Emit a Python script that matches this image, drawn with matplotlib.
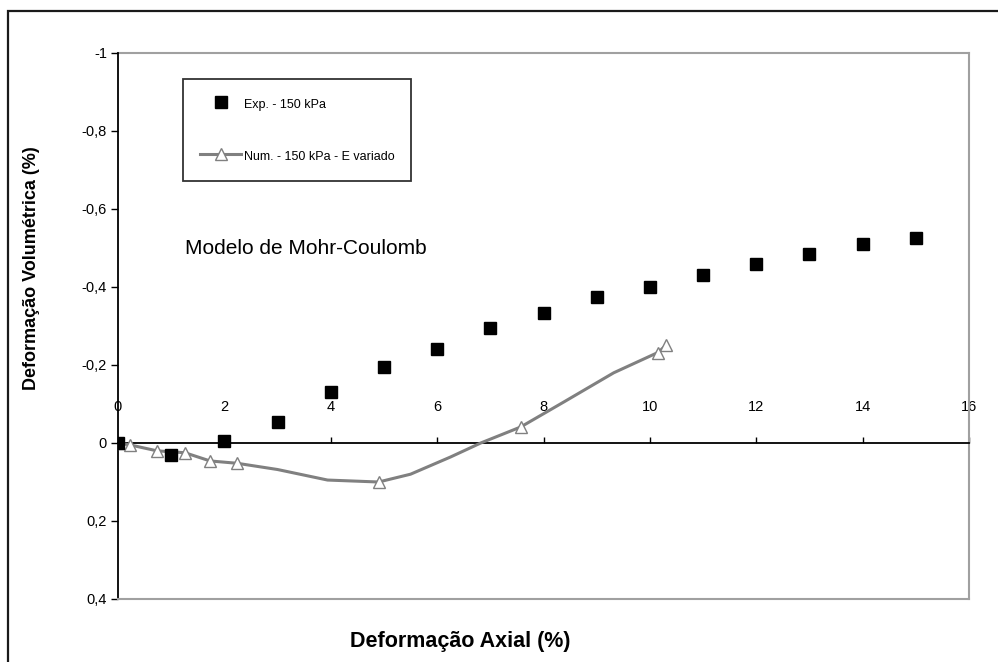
import matplotlib
matplotlib.use("Agg")
import matplotlib.pyplot as plt
from matplotlib.patches import Rectangle
from matplotlib.lines import Line2D

plt.rcParams['font.family'] = ['Liberation Sans', 'DejaVu Sans']

# Experimental data
exp_x = [0, 1, 2, 3, 4, 5, 6, 7, 8, 9, 10, 11, 12, 13, 14, 15]
exp_y = [0.0, 0.03, -0.005, -0.054, -0.13, -0.195, -0.24, -0.295, -0.333,
         -0.375, -0.40, -0.43, -0.46, -0.485, -0.51, -0.526]

# Numerical curve
num_x = [0, 0.23, 0.73, 1.26, 1.73, 2.24, 3.0, 3.94, 4.9, 5.5, 6.25, 6.82,
         7.57, 8.38, 9.32, 10.15, 10.3]
num_y = [0.0, 0.005, 0.02, 0.025, 0.046, 0.052, 0.068, 0.095, 0.10, 0.08,
         0.036, 0.0, -0.041, -0.105, -0.18, -0.232, -0.25]
num_marks = [0, 1, 2, 3, 4, 5, 8, 12, 15, 16]

x_ticks = [0, 2, 4, 6, 8, 10, 12, 14, 16]
y_ticks = [-1, -0.8, -0.6, -0.4, -0.2, 0, 0.2, 0.4]
y_ticklabels = ['-1', '-0,8', '-0,6', '-0,4', '-0,2', '0', '0,2', '0,4']

W, H = 998, 662
fig = plt.figure(figsize=(W / 100, H / 100), dpi=100)
fig.patch.set_facecolor('white')

# outer frame (clipped at right/bottom)
fig.add_artist(Rectangle((8 / W, -0.1), 1.2, 1 - 11 / H + 0.1,
                         transform=fig.transFigure, fill=False,
                         edgecolor='#1a1a1a', linewidth=1.6))

ax = fig.add_axes([118 / W, 1 - 599 / H, (969 - 118) / W, (599 - 53) / H])
ax.set_xlim(0, 16)
ax.set_ylim(0.4, -1)

gray = '#a0a0a0'
ax.spines['left'].set_color('black')
ax.spines['left'].set_linewidth(1.3)
ax.spines['right'].set_color(gray)
ax.spines['right'].set_linewidth(1.5)
ax.spines['bottom'].set_color(gray)
ax.spines['bottom'].set_linewidth(1.5)
# x-axis drawn at y = 0 using the top spine
ax.spines['top'].set_position(('data', 0))
ax.spines['top'].set_color('black')
ax.spines['top'].set_linewidth(1.3)
ax.plot([0, 1], [1, 1], transform=ax.transAxes, color=gray, lw=1.5,
        clip_on=False, zorder=1)

ax.xaxis.set_ticks_position('top')
ax.set_xticks(x_ticks)
ax.set_xticklabels([str(v) for v in x_ticks])
ax.tick_params(axis='x', direction='out', length=4, width=1, pad=17,
               labelsize=10.5, color='black')
ax.set_yticks(y_ticks)
ax.set_yticklabels(y_ticklabels)
ax.tick_params(axis='y', direction='out', length=5, width=1, pad=3,
               labelsize=10.5)

ax.plot(num_x, num_y, color='#808080', lw=2.2, marker='^', markersize=8,
        markerfacecolor='white', markeredgecolor='#808080', markeredgewidth=1.0,
        markevery=num_marks, label='Num. - 150 kPa - E variado', zorder=3)
ax.plot(exp_x, exp_y, linestyle='none', marker='s', markersize=8.5,
        color='black', label='Exp. - 150 kPa', zorder=4)

handles = [Line2D([], [], linestyle='none', marker='s', markersize=8.5, color='black'),
           Line2D([], [], color='#808080', lw=2.2, marker='^', markersize=8,
                  markerfacecolor='white', markeredgecolor='#808080')]
leg = ax.legend(handles, ['Exp. - 150 kPa', 'Num. - 150 kPa - E variado'],
                loc='upper left', bbox_to_anchor=(183 / W, 1 - 79 / H),
                bbox_transform=fig.transFigure, frameon=True, fancybox=False,
                edgecolor='black', fontsize=9, labelspacing=2.85,
                handlelength=3.3, handleheight=1.6, handletextpad=0.2,
                borderpad=1.35, borderaxespad=0)
leg.get_frame().set_linewidth(1.3)

fig.text(185 / W, 1 - 248 / H, 'Modelo de Mohr-Coulomb', fontsize=15,
         ha='left', va='center')

fig.text(32 / W, 1 - 268 / H, 'Deformação Volumétrica (%)', fontsize=13,
         fontweight='bold', rotation=90, ha='center', va='center')
fig.text(460 / W, 1 - 641 / H, 'Deformação Axial (%)', fontsize=15.5,
         fontweight='bold', ha='center', va='center')

fig.savefig('out.png', dpi=100, facecolor='white')
